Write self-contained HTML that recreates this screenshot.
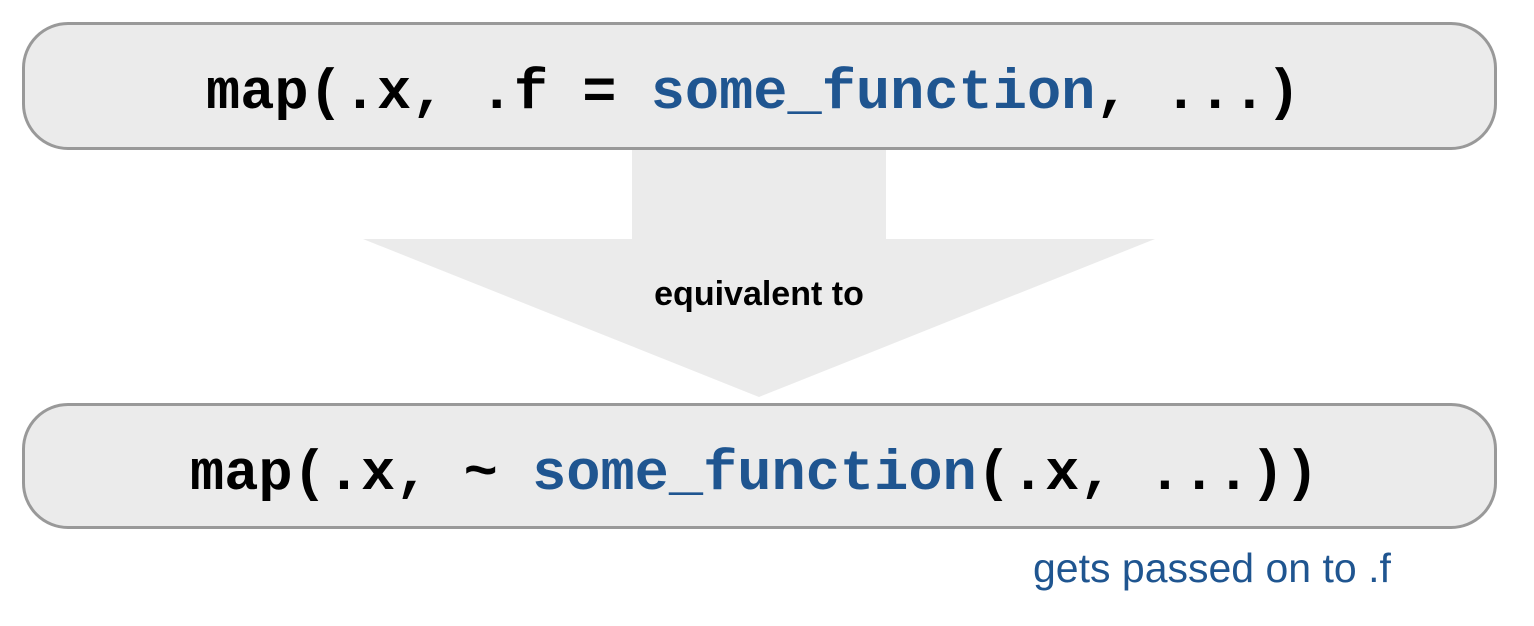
<!DOCTYPE html>
<html><head><style>
body{margin:0;width:1534px;height:626px;background:#fff;position:relative;overflow:hidden}
.box{position:absolute;left:22px;width:1475px;background:#ebebeb;border:3px solid #999;border-radius:46px;box-sizing:border-box}
.code{position:absolute;font-family:"Liberation Mono",monospace;font-weight:bold;font-size:57px;white-space:pre;color:#000;line-height:1}
.b{color:#1f5590}
</style></head><body>
<div class="box" style="top:22px;height:128px"></div>
<div class="box" style="top:403px;height:126px"></div>
<svg style="position:absolute;left:0;top:0" width="1534" height="626">
<rect x="632" y="150" width="254" height="90" fill="#ebebeb"/>
<polygon points="363,239 1155,239 759,397" fill="#ebebeb"/>
</svg>
<div class="code" style="left:206px;top:66px">map(.x, .f = <span class="b">some_function</span>, ...)</div>
<div class="code" style="left:190px;top:447px">map(.x, ~ <span class="b">some_function</span>(.x, ...))</div>
<div style="position:absolute;left:459px;width:600px;text-align:center;top:277px;font-family:'Liberation Sans',sans-serif;font-weight:bold;font-size:34px;line-height:1">equivalent to</div>
<div style="position:absolute;left:1033px;top:548px;font-family:'Liberation Sans',sans-serif;font-size:41px;color:#1f5590;line-height:1">gets passed on to .f</div>
</body></html>
